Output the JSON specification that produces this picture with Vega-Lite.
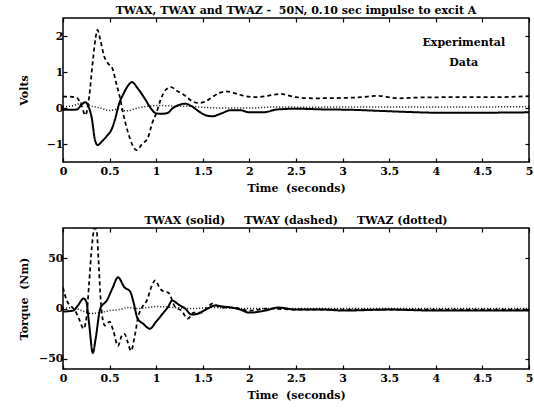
{
  "$schema": "https://vega.github.io/schema/vega-lite/v6.json",
  "background": "white",
  "padding": {"left": 17, "top": 4, "right": 3, "bottom": 3},
  "spacing": 20,
  "config": {
    "font": "DejaVu Serif",
    "view": {"stroke": "black", "strokeWidth": 1.5},
    "axis": {
      "labelFont": "DejaVu Serif", "labelFontWeight": "bold", "labelFontSize": 11, "labelColor": "black",
      "titleFont": "DejaVu Serif", "titleFontWeight": "bold", "titleFontSize": 11, "titleColor": "black",
      "domain": false, "grid": false, "tickColor": "black", "tickSize": -4, "tickWidth": 1.2, "labelPadding": 4
    },
    "axisX": {"labelPadding": 7, "titlePadding": 6},
    "axisY": {"minExtent": 22, "maxExtent": 22, "titlePadding": 12},
    "title": {"font": "DejaVu Serif", "fontWeight": "bold", "fontSize": 11, "color": "black", "offset": 1}
  },
  "datasets": {
    "volts": [
      {"t":0,"v":-0.05,"s":"TWAX"},{"t":0.1,"v":-0.05,"s":"TWAX"},{"t":0.15,"v":-0.04,"s":"TWAX"},{"t":0.2,"v":0.1,"s":"TWAX"},{"t":0.24,"v":0.16,"s":"TWAX"},{"t":0.28,"v":0.0,"s":"TWAX"},{"t":0.31,"v":-0.3,"s":"TWAX"},{"t":0.34,"v":-0.85,"s":"TWAX"},{"t":0.37,"v":-1.03,"s":"TWAX"},{"t":0.42,"v":-0.92,"s":"TWAX"},{"t":0.47,"v":-0.78,"s":"TWAX"},{"t":0.52,"v":-0.6,"s":"TWAX"},{"t":0.56,"v":-0.3,"s":"TWAX"},{"t":0.6,"v":0.1,"s":"TWAX"},{"t":0.65,"v":0.4,"s":"TWAX"},{"t":0.7,"v":0.63,"s":"TWAX"},{"t":0.74,"v":0.72,"s":"TWAX"},{"t":0.8,"v":0.55,"s":"TWAX"},{"t":0.88,"v":0.25,"s":"TWAX"},{"t":0.94,"v":0.0,"s":"TWAX"},{"t":1.0,"v":-0.15,"s":"TWAX"},{"t":1.06,"v":-0.16,"s":"TWAX"},{"t":1.12,"v":-0.14,"s":"TWAX"},{"t":1.18,"v":0.0,"s":"TWAX"},{"t":1.25,"v":0.09,"s":"TWAX"},{"t":1.31,"v":0.12,"s":"TWAX"},{"t":1.38,"v":0.05,"s":"TWAX"},{"t":1.45,"v":-0.08,"s":"TWAX"},{"t":1.52,"v":-0.19,"s":"TWAX"},{"t":1.6,"v":-0.23,"s":"TWAX"},{"t":1.7,"v":-0.15,"s":"TWAX"},{"t":1.8,"v":-0.06,"s":"TWAX"},{"t":1.9,"v":-0.06,"s":"TWAX"},{"t":2.0,"v":-0.12,"s":"TWAX"},{"t":2.15,"v":-0.12,"s":"TWAX"},{"t":2.3,"v":-0.04,"s":"TWAX"},{"t":2.5,"v":-0.02,"s":"TWAX"},{"t":2.8,"v":-0.04,"s":"TWAX"},{"t":3.1,"v":-0.05,"s":"TWAX"},{"t":3.4,"v":-0.08,"s":"TWAX"},{"t":3.7,"v":-0.11,"s":"TWAX"},{"t":4.0,"v":-0.13,"s":"TWAX"},{"t":4.5,"v":-0.13,"s":"TWAX"},{"t":5.0,"v":-0.12,"s":"TWAX"},
      {"t":0,"v":0.32,"s":"TWAY"},{"t":0.1,"v":0.31,"s":"TWAY"},{"t":0.15,"v":0.28,"s":"TWAY"},{"t":0.2,"v":0.05,"s":"TWAY"},{"t":0.24,"v":-0.2,"s":"TWAY"},{"t":0.28,"v":0.3,"s":"TWAY"},{"t":0.32,"v":1.3,"s":"TWAY"},{"t":0.35,"v":1.95,"s":"TWAY"},{"t":0.37,"v":2.17,"s":"TWAY"},{"t":0.4,"v":1.9,"s":"TWAY"},{"t":0.44,"v":1.45,"s":"TWAY"},{"t":0.48,"v":1.25,"s":"TWAY"},{"t":0.53,"v":1.1,"s":"TWAY"},{"t":0.57,"v":0.7,"s":"TWAY"},{"t":0.61,"v":0.3,"s":"TWAY"},{"t":0.65,"v":-0.2,"s":"TWAY"},{"t":0.7,"v":-0.7,"s":"TWAY"},{"t":0.75,"v":-1.05,"s":"TWAY"},{"t":0.79,"v":-1.17,"s":"TWAY"},{"t":0.85,"v":-1.0,"s":"TWAY"},{"t":0.91,"v":-0.83,"s":"TWAY"},{"t":0.96,"v":-0.4,"s":"TWAY"},{"t":1.0,"v":-0.15,"s":"TWAY"},{"t":1.05,"v":0.25,"s":"TWAY"},{"t":1.1,"v":0.5,"s":"TWAY"},{"t":1.16,"v":0.58,"s":"TWAY"},{"t":1.22,"v":0.48,"s":"TWAY"},{"t":1.3,"v":0.36,"s":"TWAY"},{"t":1.38,"v":0.2,"s":"TWAY"},{"t":1.45,"v":0.14,"s":"TWAY"},{"t":1.52,"v":0.17,"s":"TWAY"},{"t":1.6,"v":0.3,"s":"TWAY"},{"t":1.68,"v":0.42,"s":"TWAY"},{"t":1.75,"v":0.46,"s":"TWAY"},{"t":1.83,"v":0.42,"s":"TWAY"},{"t":1.92,"v":0.35,"s":"TWAY"},{"t":2.05,"v":0.3,"s":"TWAY"},{"t":2.2,"v":0.34,"s":"TWAY"},{"t":2.33,"v":0.39,"s":"TWAY"},{"t":2.5,"v":0.3,"s":"TWAY"},{"t":2.7,"v":0.27,"s":"TWAY"},{"t":3.0,"v":0.28,"s":"TWAY"},{"t":3.2,"v":0.3,"s":"TWAY"},{"t":3.37,"v":0.34,"s":"TWAY"},{"t":3.6,"v":0.27,"s":"TWAY"},{"t":3.8,"v":0.29,"s":"TWAY"},{"t":4.2,"v":0.3,"s":"TWAY"},{"t":4.6,"v":0.3,"s":"TWAY"},{"t":5.0,"v":0.33,"s":"TWAY"},
      {"t":0,"v":0.03,"s":"TWAZ"},{"t":0.1,"v":0.06,"s":"TWAZ"},{"t":0.22,"v":0.15,"s":"TWAZ"},{"t":0.3,"v":0.06,"s":"TWAZ"},{"t":0.4,"v":0.0,"s":"TWAZ"},{"t":0.5,"v":-0.07,"s":"TWAZ"},{"t":0.6,"v":-0.03,"s":"TWAZ"},{"t":0.68,"v":-0.08,"s":"TWAZ"},{"t":0.8,"v":0.0,"s":"TWAZ"},{"t":0.95,"v":0.06,"s":"TWAZ"},{"t":1.05,"v":0.07,"s":"TWAZ"},{"t":1.2,"v":0.05,"s":"TWAZ"},{"t":1.35,"v":0.05,"s":"TWAZ"},{"t":1.5,"v":0.02,"s":"TWAZ"},{"t":1.7,"v":0.0,"s":"TWAZ"},{"t":2.0,"v":0.0,"s":"TWAZ"},{"t":2.3,"v":0.03,"s":"TWAZ"},{"t":2.6,"v":0.02,"s":"TWAZ"},{"t":3.0,"v":0.03,"s":"TWAZ"},{"t":3.5,"v":0.03,"s":"TWAZ"},{"t":4.0,"v":0.03,"s":"TWAZ"},{"t":4.5,"v":0.03,"s":"TWAZ"},{"t":5.0,"v":0.04,"s":"TWAZ"}
    ],
    "torque": [
      {"t":0,"v":-3,"s":"TWAX"},{"t":0.11,"v":-2,"s":"TWAX"},{"t":0.16,"v":3,"s":"TWAX"},{"t":0.22,"v":10,"s":"TWAX"},{"t":0.25,"v":7,"s":"TWAX"},{"t":0.28,"v":-15,"s":"TWAX"},{"t":0.32,"v":-44,"s":"TWAX"},{"t":0.35,"v":-30,"s":"TWAX"},{"t":0.4,"v":0,"s":"TWAX"},{"t":0.47,"v":8,"s":"TWAX"},{"t":0.53,"v":20,"s":"TWAX"},{"t":0.59,"v":31,"s":"TWAX"},{"t":0.66,"v":21,"s":"TWAX"},{"t":0.72,"v":17,"s":"TWAX"},{"t":0.76,"v":5,"s":"TWAX"},{"t":0.8,"v":-10,"s":"TWAX"},{"t":0.86,"v":-15,"s":"TWAX"},{"t":0.93,"v":-20,"s":"TWAX"},{"t":1.0,"v":-13,"s":"TWAX"},{"t":1.07,"v":-5,"s":"TWAX"},{"t":1.13,"v":2,"s":"TWAX"},{"t":1.17,"v":8,"s":"TWAX"},{"t":1.24,"v":4,"s":"TWAX"},{"t":1.31,"v":0,"s":"TWAX"},{"t":1.38,"v":-6,"s":"TWAX"},{"t":1.45,"v":-5,"s":"TWAX"},{"t":1.55,"v":0,"s":"TWAX"},{"t":1.63,"v":3,"s":"TWAX"},{"t":1.72,"v":2,"s":"TWAX"},{"t":1.81,"v":1,"s":"TWAX"},{"t":1.9,"v":-1,"s":"TWAX"},{"t":2.0,"v":-4,"s":"TWAX"},{"t":2.17,"v":-2,"s":"TWAX"},{"t":2.31,"v":1,"s":"TWAX"},{"t":2.5,"v":-1,"s":"TWAX"},{"t":2.8,"v":-1,"s":"TWAX"},{"t":3.0,"v":-2,"s":"TWAX"},{"t":3.5,"v":-1,"s":"TWAX"},{"t":4.0,"v":-2,"s":"TWAX"},{"t":4.5,"v":-2,"s":"TWAX"},{"t":5.0,"v":-2,"s":"TWAX"},
      {"t":0,"v":21,"s":"TWAY"},{"t":0.04,"v":8,"s":"TWAY"},{"t":0.09,"v":2,"s":"TWAY"},{"t":0.13,"v":-2,"s":"TWAY"},{"t":0.18,"v":-12,"s":"TWAY"},{"t":0.22,"v":-20,"s":"TWAY"},{"t":0.25,"v":-10,"s":"TWAY"},{"t":0.28,"v":25,"s":"TWAY"},{"t":0.31,"v":62,"s":"TWAY"},{"t":0.34,"v":80,"s":"TWAY"},{"t":0.36,"v":78,"s":"TWAY"},{"t":0.38,"v":50,"s":"TWAY"},{"t":0.4,"v":15,"s":"TWAY"},{"t":0.42,"v":-7,"s":"TWAY"},{"t":0.45,"v":-17,"s":"TWAY"},{"t":0.5,"v":-13,"s":"TWAY"},{"t":0.54,"v":-22,"s":"TWAY"},{"t":0.59,"v":-37,"s":"TWAY"},{"t":0.63,"v":-27,"s":"TWAY"},{"t":0.66,"v":-25,"s":"TWAY"},{"t":0.69,"v":-32,"s":"TWAY"},{"t":0.73,"v":-42,"s":"TWAY"},{"t":0.77,"v":-27,"s":"TWAY"},{"t":0.81,"v":-7,"s":"TWAY"},{"t":0.86,"v":3,"s":"TWAY"},{"t":0.9,"v":8,"s":"TWAY"},{"t":0.95,"v":22,"s":"TWAY"},{"t":0.99,"v":28,"s":"TWAY"},{"t":1.04,"v":20,"s":"TWAY"},{"t":1.08,"v":17,"s":"TWAY"},{"t":1.13,"v":16,"s":"TWAY"},{"t":1.2,"v":2,"s":"TWAY"},{"t":1.27,"v":-2,"s":"TWAY"},{"t":1.34,"v":-10,"s":"TWAY"},{"t":1.4,"v":-4,"s":"TWAY"},{"t":1.49,"v":-4,"s":"TWAY"},{"t":1.56,"v":2,"s":"TWAY"},{"t":1.6,"v":5,"s":"TWAY"},{"t":1.7,"v":1,"s":"TWAY"},{"t":1.81,"v":1,"s":"TWAY"},{"t":2.0,"v":-2,"s":"TWAY"},{"t":2.2,"v":0,"s":"TWAY"},{"t":2.5,"v":-1,"s":"TWAY"},{"t":3.0,"v":-1,"s":"TWAY"},{"t":3.5,"v":-1,"s":"TWAY"},{"t":4.0,"v":-1,"s":"TWAY"},{"t":4.5,"v":-1,"s":"TWAY"},{"t":5.0,"v":-1,"s":"TWAY"},
      {"t":0,"v":0,"s":"TWAZ"},{"t":0.1,"v":1,"s":"TWAZ"},{"t":0.2,"v":-2,"s":"TWAZ"},{"t":0.3,"v":-5,"s":"TWAZ"},{"t":0.4,"v":-4,"s":"TWAZ"},{"t":0.5,"v":-2,"s":"TWAZ"},{"t":0.6,"v":-1,"s":"TWAZ"},{"t":0.7,"v":1,"s":"TWAZ"},{"t":0.8,"v":0,"s":"TWAZ"},{"t":0.9,"v":1,"s":"TWAZ"},{"t":1.0,"v":2,"s":"TWAZ"},{"t":1.2,"v":1,"s":"TWAZ"},{"t":1.4,"v":0,"s":"TWAZ"},{"t":1.6,"v":1,"s":"TWAZ"},{"t":2.0,"v":0,"s":"TWAZ"},{"t":3.0,"v":0,"s":"TWAZ"},{"t":4.0,"v":0,"s":"TWAZ"},{"t":5.0,"v":0,"s":"TWAZ"}
    ]
  },
  "vconcat": [
    {
      "width": 466, "height": 144,
      "title": {"text": "TWAX, TWAY and TWAZ -\u00a0\u00a050N, 0.10 sec impulse to excit A"},
      "layer": [
        {
          "data": {"name": "volts"},
          "mark": {"type": "line", "interpolate": "monotone", "color": "black", "clip": true},
          "encoding": {
            "x": {"field": "t", "type": "quantitative", "scale": {"domain": [0, 5], "nice": false},
                  "axis": {"values": [0, 0.5, 1, 1.5, 2, 2.5, 3, 3.5, 4, 4.5, 5], "title": "Time\u00a0\u00a0(seconds)", "labelFlush": false, "format": "~g"}},
            "y": {"field": "v", "type": "quantitative", "scale": {"domain": [-1.5, 2.5], "nice": false},
                  "axis": {"values": [-1, 0, 1, 2], "title": "Volts"}},
            "strokeDash": {"field": "s", "type": "nominal", "scale": {"domain": ["TWAX", "TWAY", "TWAZ"], "range": [[1, 0], [4, 3], [1, 2]]}, "legend": null},
            "strokeWidth": {"field": "s", "type": "nominal", "scale": {"domain": ["TWAX", "TWAY", "TWAZ"], "range": [2, 1.5, 1]}, "legend": null}
          }
        },
        {
          "data": {"values": [{}]},
          "mark": {"type": "text", "align": "center", "baseline": "top", "fontWeight": "bold", "fontSize": 11, "lineHeight": 20, "text": ["Experimental", "Data"], "font": "DejaVu Serif", "color": "black"},
          "encoding": {
            "x": {"datum": 4.3, "type": "quantitative", "axis": {"orient": "top", "labels": false, "title": null, "minExtent": 0, "maxExtent": 0, "values": [0, 0.5, 1, 1.5, 2, 2.5, 3, 3.5, 4, 4.5, 5]}},
            "y": {"datum": 1.97, "type": "quantitative", "axis": {"orient": "right", "labels": false, "title": null, "minExtent": 0, "maxExtent": 0, "values": [-1, 0, 1, 2]}}
          }
        }
      ],
      "resolve": {"axis": {"x": "independent", "y": "independent"}}
    },
    {
      "width": 466, "height": 141,
      "title": {"text": "TWAX (solid)\u00a0\u00a0\u00a0\u00a0\u00a0TWAY (dashed)\u00a0\u00a0\u00a0\u00a0\u00a0TWAZ (dotted)"},
      "layer": [
        {
          "data": {"name": "torque"},
          "mark": {"type": "line", "interpolate": "monotone", "color": "black", "clip": true},
          "encoding": {
            "x": {"field": "t", "type": "quantitative", "scale": {"domain": [0, 5], "nice": false},
                  "axis": {"values": [0, 0.5, 1, 1.5, 2, 2.5, 3, 3.5, 4, 4.5, 5], "title": "Time\u00a0\u00a0(seconds)", "labelFlush": false, "format": "~g"}},
            "y": {"field": "v", "type": "quantitative", "scale": {"domain": [-60, 80], "nice": false},
                  "axis": {"values": [-50, 0, 50], "title": "Torque\u00a0\u00a0(Nm)"}},
            "strokeDash": {"field": "s", "type": "nominal", "scale": {"domain": ["TWAX", "TWAY", "TWAZ"], "range": [[1, 0], [4, 3], [1, 2]]}, "legend": null},
            "strokeWidth": {"field": "s", "type": "nominal", "scale": {"domain": ["TWAX", "TWAY", "TWAZ"], "range": [2, 1.5, 1]}, "legend": null}
          }
        },
        {
          "data": {"values": [{}]},
          "mark": {"type": "text", "text": ""},
          "encoding": {
            "x": {"datum": 2.5, "type": "quantitative", "axis": {"orient": "top", "labels": false, "title": null, "minExtent": 0, "maxExtent": 0, "values": [0, 0.5, 1, 1.5, 2, 2.5, 3, 3.5, 4, 4.5, 5]}},
            "y": {"datum": 0, "type": "quantitative", "axis": {"orient": "right", "labels": false, "title": null, "minExtent": 0, "maxExtent": 0, "values": [-50, 0, 50]}}
          }
        }
      ],
      "resolve": {"axis": {"x": "independent", "y": "independent"}}
    }
  ]
}
